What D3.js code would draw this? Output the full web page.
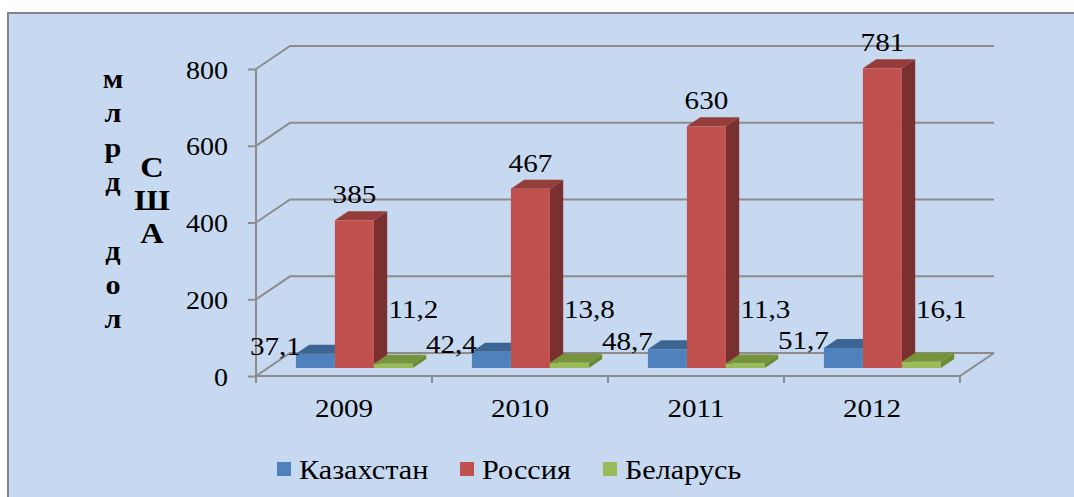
<!DOCTYPE html>
<meta charset="utf-8">

<style type="text/css">
	body { margin: 0; background: #fff; }
	svg { display: block; }
	text { font-family: "Liberation Serif", "Times New Roman", serif; fill: #000; }
</style>

<body>
</body>

<script src="https://d3js.org/d3.v7.min.js"></script>

<script>

	var years = ["2009", "2010", "2011", "2012"];
	var seriesNames = ["Казахстан", "Россия", "Беларусь"];
	var kazakhstan = [37.1, 42.4, 48.7, 51.7];
	var russia = [385, 467, 630, 781];
	var belarus = [11.2, 13.8, 11.3, 16.1];
	var yTicks = [0, 200, 400, 600, 800];
	var titleLeft = "млрд дол";
	var titleRight = "США";

	var W = 1074, H = 497;
	var SX = 1.12; // text in the picture is stretched sideways a bit

	// 3d look: offset of the back wall
	var DX = 34, DY = 23;
	var zFront = 0.35, zBack = 0.74;

	var colors = {
		"Казахстан": { front: "#4f81bd", top: "#3d6593", side: "#385d8a" },
		"Россия":    { front: "#c0504d", top: "#953d3a", side: "#7a302e" },
		"Беларусь":  { front: "#9bbb59", top: "#77933c", side: "#6c8a33" }
	};

	var rows = years.map(function(y, i) {
		return { year: y, values: [kazakhstan[i], russia[i], belarus[i]] };
	});

	var yScale = d3.scaleLinear().domain([0, 800]).range([376, 69]);
	var xScale = d3.scaleBand().domain(years).range([256, 960]).padding(0);
	var sub = d3.scaleBand().domain(seriesNames).range([28, 145]).padding(0);

	function P(x, v, z) {
		return [x + z * DX, yScale(v) - z * DY];
	}
	function poly(pts) {
		return pts.map(function(p) { return p[0].toFixed(1) + "," + p[1].toFixed(1); }).join(" ");
	}
	function fmt(v) {
		return String(v).replace(".", ",");
	}

	var svg = d3.select("body").append("svg")
		.attr("width", W)
		.attr("height", H);

	// chart area
	svg.append("rect")
		.attr("x", 8).attr("y", 13)
		.attr("width", W + 20).attr("height", H + 20)
		.attr("fill", "#c6d9f1")
		.attr("stroke", "#858585")
		.attr("stroke-width", 2);

	// helper for stretched text
	function stext(g, x, y, str, size, anchor, weight) {
		return g.append("g")
			.attr("transform", "translate(" + x + "," + y + ") scale(" + SX + ",1)")
			.append("text")
			.attr("text-anchor", anchor || "middle")
			.attr("font-size", size)
			.attr("font-weight", weight || "normal")
			.text(str);
	}

	var gridColor = "#8c8c8c";
	var grid = svg.append("g").attr("stroke", gridColor).attr("stroke-width", 2).attr("fill", "none");

	// back wall lines and side diagonals
	yTicks.forEach(function(t) {
		var a = P(256, t, 0), b = P(256, t, 1), c = P(960, t, 1);
		grid.append("polyline").attr("points", poly([a, b, c]));
	});

	// floor front and right edges
	grid.append("polyline")
		.attr("points", poly([P(256, 0, 0), P(960, 0, 0), P(960, 0, 1)]));

	// y axis
	var yAxis = d3.axisLeft(yScale)
		.tickValues(yTicks)
		.tickSize(8)
		.tickSizeOuter(0)
		.tickFormat("");

	var yg = svg.append("g")
		.attr("transform", "translate(256,0)")
		.call(yAxis);
	yg.selectAll("path, line").attr("stroke", gridColor).attr("stroke-width", 2);
	yg.select(".domain").attr("d", "M0," + yScale(800) + "V" + (yScale(0) + 7));

	yTicks.forEach(function(t) {
		stext(svg, 228, yScale(t) + 9.5, t, 25, "end");
	});

	// category ticks
	var xEdges = years.map(function(y) { return xScale(y); }).concat([xScale.range()[1]]);
	svg.append("g").selectAll("line")
		.data(xEdges)
		.enter()
		.append("line")
		.attr("x1", function(d) { return d; })
		.attr("x2", function(d) { return d; })
		.attr("y1", yScale(0))
		.attr("y2", yScale(0) + 7)
		.attr("stroke", gridColor)
		.attr("stroke-width", 2);

	years.forEach(function(y) {
		stext(svg, xScale(y) + xScale.bandwidth() / 2, 417, y, 26, "middle");
	});

	// bars
	var bw = sub.bandwidth();
	var bars = svg.append("g");
	rows.forEach(function(r) {
		seriesNames.forEach(function(s, k) {
			var v = r.values[k];
			var x0 = xScale(r.year) + sub(s), x1 = x0 + bw;
			var c = colors[s];
			var g = bars.append("g");
			g.append("polygon")
				.attr("points", poly([P(x1, 0, zFront), P(x1, 0, zBack), P(x1, v, zBack), P(x1, v, zFront)]))
				.attr("fill", c.side);
			g.append("polygon")
				.attr("points", poly([P(x0, v, zFront), P(x1, v, zFront), P(x1, v, zBack), P(x0, v, zBack)]))
				.attr("fill", c.top);
			g.append("polygon")
				.attr("points", poly([P(x0, 0, zFront), P(x1, 0, zFront), P(x1, v, zFront), P(x0, v, zFront)]))
				.attr("fill", c.front);
		});
	});

	// data labels
	var labels = svg.append("g");
	rows.forEach(function(r) {
		seriesNames.forEach(function(s, k) {
			var v = r.values[k];
			var x0 = xScale(r.year) + sub(s);
			var cx = P(x0 + bw / 2, v, zFront)[0];
			var lx, ly;
			if (k === 1) {
				lx = cx;
				ly = P(x0, v, zBack)[1] - 8;
			} else if (k === 0) {
				lx = cx - 40;
				ly = P(x0, v, zFront)[1] + 1;
			} else {
				lx = cx + 20;
				ly = P(x0, 0, zFront)[1] - 50;
			}
			stext(labels, lx, ly, fmt(v), 26, "middle");
		});
	});

	// y axis title, letters stacked
	titleLeft.split("").forEach(function(ch, i) {
		if (ch !== " ") stext(svg, 113, 88 + i * 34.3, ch, 27, "middle", "bold");
	});
	titleRight.split("").forEach(function(ch, i) {
		stext(svg, 152, 177 + i * 33, ch, 29, "middle", "bold");
	});

	// legend
	var legendX = [277, 460, 603];
	var legend = svg.append("g");
	seriesNames.forEach(function(s, i) {
		legend.append("rect")
			.attr("x", legendX[i]).attr("y", 462)
			.attr("width", 14).attr("height", 14)
			.attr("fill", colors[s].front);
		stext(legend, legendX[i] + 22, 479, s, 27, "start");
	});

</script>
